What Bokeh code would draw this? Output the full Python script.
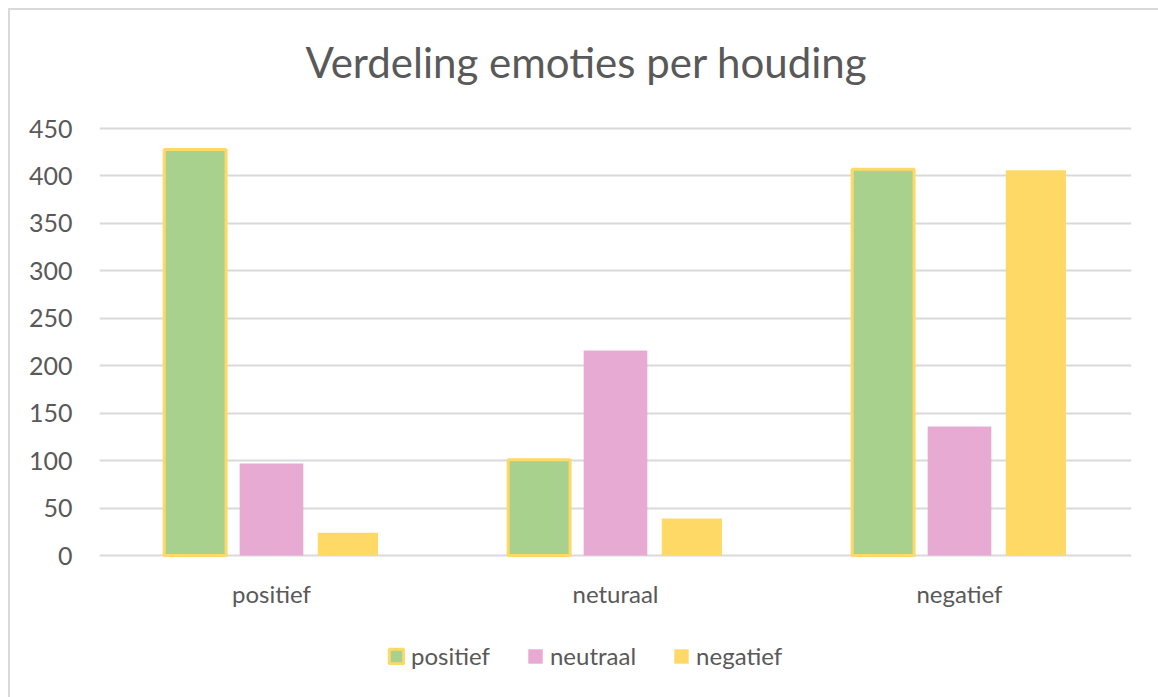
from bokeh.plotting import figure
from bokeh.models import ColumnDataSource, FactorRange, Range1d, Legend, LegendItem, Label
from bokeh.core.properties import value
from bokeh.transform import dodge
from bokeh.embed import file_html
from bokeh.resources import INLINE

categories = ["positief", "neturaal", "negatief"]
series_names = ["positief", "neutraal", "negatief"]
positief = [428, 101, 407]
neutraal = [97, 216, 136]
negatief = [24, 39, 406]
y_ticks = [0, 50, 100, 150, 200, 250, 300, 350, 400, 450]

source = ColumnDataSource(data=dict(cat=categories, pos=positief, neu=neutraal, neg=negatief))

FONT = "Lato"
TXT = "#595959"

# The frame spans the whole chart box so that title, category labels and
# legend can be drawn inside it; the value axis still runs 0..450.
PX_PER_UNIT = 427 / 450.0
Y_TOP = 450 + 118 / PX_PER_UNIT
Y_BOTTOM = -144 / PX_PER_UNIT

p = figure(x_range=FactorRange(*categories), y_range=Range1d(Y_BOTTOM, Y_TOP),
           width=1150, height=689, output_backend="svg", toolbar_location=None,
           min_border_left=89, min_border_right=29, min_border_top=0, min_border_bottom=0)
p.margin = (8, 0, 0, 8)
p.styles = {"border-top": "2px solid #d9d9d9", "border-left": "2px solid #d9d9d9"}
p.outline_line_color = None

r1 = p.vbar(x=dodge("cat", -0.222, range=p.x_range), top="pos", width=0.18, source=source,
            fill_color="#a9d18e", line_color="#ffd966", line_width=3)
r2 = p.vbar(x=dodge("cat", 0.0, range=p.x_range), top="neu", width=0.185, source=source,
            fill_color="#e7aad3", line_color=None)
r3 = p.vbar(x=dodge("cat", 0.222, range=p.x_range), top="neg", width=0.175, source=source,
            fill_color="#ffd966", line_color=None)

# category labels under the baseline
p.text(x="cat", y=value(-38 / PX_PER_UNIT), text="cat", source=source,
       text_font=value(FONT), text_font_size="24px", text_color=TXT,
       text_align="center", text_baseline="middle")

# title
title = Label(x=1.4155, y=(554 - 60) / PX_PER_UNIT, text="Verdeling emoties per houding",
              text_font=FONT, text_font_size="42px", text_color=TXT,
              text_align="center", text_baseline="middle")
p.add_layout(title)

p.xgrid.grid_line_color = None
p.ygrid.grid_line_color = "#d9d9d9"
p.ygrid.grid_line_width = 2
p.yaxis.ticker = y_ticks
p.yaxis.axis_line_color = None
p.yaxis.major_tick_line_color = None
p.yaxis.minor_tick_line_color = None
p.yaxis.major_label_standoff = 21
p.yaxis.major_label_text_font = FONT
p.yaxis.major_label_text_font_size = "25px"
p.yaxis.major_label_text_color = TXT
p.xaxis.visible = False

legend = Legend(items=[LegendItem(label=series_names[0], renderers=[r1]),
                       LegendItem(label=series_names[1], renderers=[r2]),
                       LegendItem(label=series_names[2], renderers=[r3])],
                orientation="horizontal", location=(288, 29),
                label_text_font=FONT, label_text_font_size="24px", label_text_color=TXT,
                glyph_width=18, glyph_height=18, spacing=36, label_standoff=6,
                border_line_color=None, background_fill_alpha=0, margin=0, padding=0)
p.add_layout(legend, "center")

open("out.html", "w").write(file_html(p, INLINE))
